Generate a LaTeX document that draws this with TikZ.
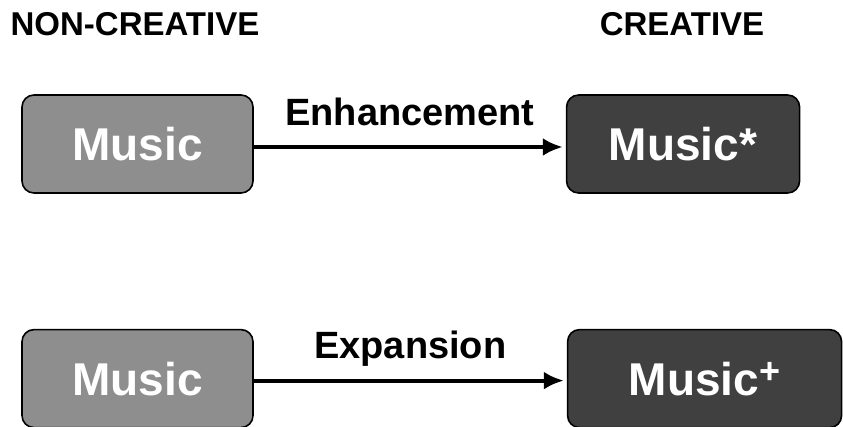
\documentclass[tikz,border=0pt]{standalone}
\usepackage{fontspec}
\setmainfont{Liberation Sans}
\usetikzlibrary{arrows.meta, positioning}
\definecolor{plaingray}{HTML}{8E8E8E}
\definecolor{darkgray}{HTML}{404040}

\begin{document}
\begin{tikzpicture}[
  x=1pt, y=-1pt,
  node distance=135pt and 312pt,
  every node/.style={align=center},
  box/.style={draw, line width=1.6pt, rounded corners=12pt, minimum width=231pt, minimum height=98pt, text=white, font=\fontsize{46}{46}\selectfont\bfseries},
  plainbox/.style={box, fill=plaingray},
  creativebox/.style={box, fill=darkgray},
  head/.style={font=\fontsize{33}{33}\selectfont\bfseries},
  lbl/.style={midway, anchor=base, yshift=22pt, font=\fontsize{38}{38}\selectfont\bfseries},
  arrow/.style={-{Latex[length=20pt, width=18pt]}, line width=4pt, shorten >=3pt}
]
\clip (0,0) rectangle (843,426);

% Nodes
\node[head] (noncre) at (135,24) {NON-CREATIVE};
\node[head] (cre) at (682,24) {CREATIVE};
\node[plainbox] (music) at (137.5,144) {Music};
\node[creativebox, minimum width=233pt, right=of music] (musicstar) {Music*};
\node[plainbox, below=of music] (musictwo) {Music};
\node[creativebox, minimum width=274pt, right=313pt of musictwo] (musicplus) {Music\raisebox{12pt}{\fontsize{36}{36}\selectfont +}};

% Arrows
\draw[arrow] ([yshift=-3pt]music.east) -- node[lbl] {Enhancement} ([yshift=-3pt]musicstar.west);
\draw[arrow] ([yshift=-2pt]musictwo.east) -- node[lbl] {Expansion} ([yshift=-2pt]musicplus.west);

\end{tikzpicture}
\end{document}
